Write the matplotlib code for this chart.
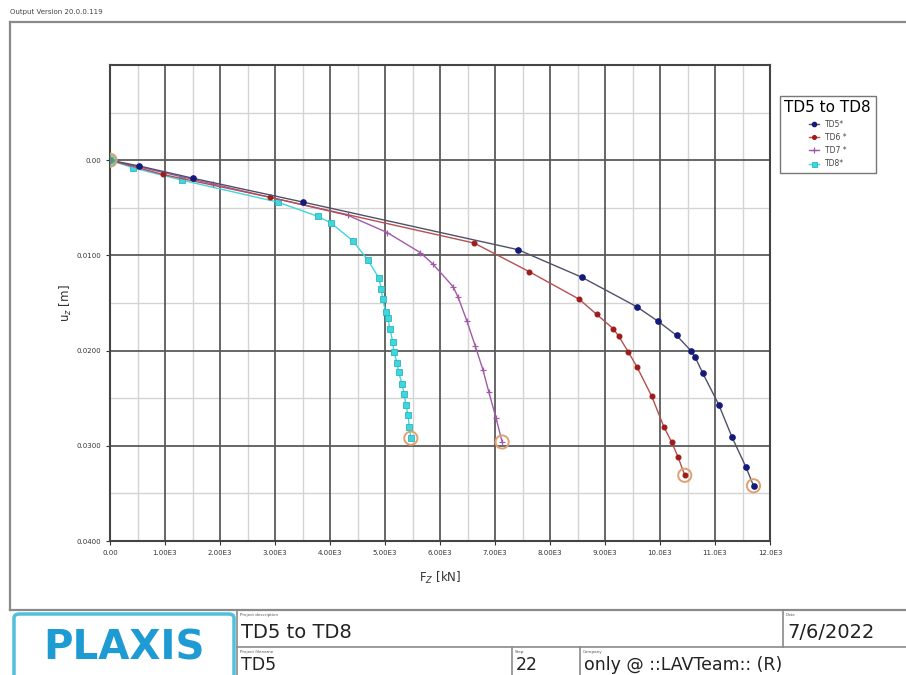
import matplotlib.pyplot as plt
from matplotlib.lines import Line2D
from matplotlib.patches import FancyBboxPatch

# Load-displacement curves (F_z in kN, u_z in m)
td5_f = [0, 527, 1510, 3510, 7420, 8580, 9580, 9960, 10300, 10560, 10640, 10780,
         11070, 11310, 11560, 11700]
td5_u = [0, 0.0006, 0.0019, 0.0044, 0.0094, 0.0123, 0.0154, 0.0169, 0.0184, 0.0200,
         0.0207, 0.0224, 0.0257, 0.0291, 0.0322, 0.0342]

td6_f = [0, 960, 2910, 6620, 7620, 8530, 8850, 9150, 9250, 9420, 9580, 9850,
         10070, 10210, 10330, 10450]
td6_u = [0, 0.0015, 0.0039, 0.0087, 0.0117, 0.0146, 0.0162, 0.0177, 0.0185, 0.0201,
         0.0217, 0.0248, 0.0280, 0.0296, 0.0312, 0.0331]

td7_f = [0, 1870, 4330, 5040, 5640, 5870, 6240, 6330, 6490, 6640, 6780, 6890,
         7020, 7130]
td7_u = [0, 0.0025, 0.0058, 0.0076, 0.0097, 0.0109, 0.0133, 0.0144, 0.0169, 0.0195,
         0.0220, 0.0244, 0.0271, 0.0296]

td8_f = [0, 420, 1310, 3050, 3780, 4020, 4420, 4690, 4890, 4930, 4960, 5010, 5050,
         5090, 5140, 5160, 5220, 5250, 5310, 5350, 5380, 5420, 5440, 5470]
td8_u = [0, 0.0008, 0.0021, 0.0044, 0.0059, 0.0066, 0.0085, 0.0105, 0.0124, 0.0135,
         0.0146, 0.0159, 0.0166, 0.0177, 0.0191, 0.0201, 0.0213, 0.0223, 0.0235,
         0.0246, 0.0257, 0.0268, 0.0280, 0.0292]

x_ticks = [0, 1000, 2000, 3000, 4000, 5000, 6000, 7000, 8000, 9000, 10000, 11000, 12000]
x_labels = ["0.00", "1.00E3", "2.00E3", "3.00E3", "4.00E3", "5.00E3", "6.00E3",
            "7.00E3", "8.00E3", "9.00E3", "10.0E3", "11.0E3", "12.0E3"]
y_ticks = [0, 0.01, 0.02, 0.03, 0.04]
y_labels = ["0.00", "0.0100", "0.0200", "0.0300", "0.0400"]

W, H = 906, 675
fig = plt.figure(figsize=(W / 100, H / 100), dpi=100)


def fx(px):
    return px / W


def fy(py):
    return 1 - py / H


def hline(x0, x1, y, color="#8a8a8a", lw=1.2):
    fig.add_artist(Line2D([fx(x0), fx(x1)], [fy(y), fy(y)], color=color, lw=lw))


def vline(x, y0, y1, color="#8a8a8a", lw=1.2):
    fig.add_artist(Line2D([fx(x), fx(x)], [fy(y0), fy(y1)], color=color, lw=lw))


# outer frame around the plot area
hline(10, 906, 22, lw=1.6)
vline(10, 22, 610, lw=1.6)
hline(10, 906, 610, lw=1.6)

fig.text(fx(10), fy(12), "Output Version 20.0.0.119", fontsize=5, color="#444",
         va="center", ha="left")

ax = fig.add_axes([fx(110), fy(541), fx(770) - fx(110), fy(65) - fy(541)])
ax.set_xlim(0, 12000)
ax.set_ylim(0.04, -0.01)

# light minor grid, dark major grid
for v in range(500, 12000, 1000):
    ax.axvline(v, color="#d4d4d4", lw=1.0, zorder=0)
for v in [-0.005, 0.005, 0.015, 0.025, 0.035]:
    ax.axhline(v, color="#d4d4d4", lw=1.0, zorder=0)
for v in x_ticks[1:-1]:
    ax.axvline(v, color="#5a5a5a", lw=1.3, zorder=0)
for v in [-0.01] + y_ticks[:-1]:
    ax.axhline(v, color="#5a5a5a", lw=1.3, zorder=0)

ax.set_xticks(x_ticks)
ax.set_xticklabels(x_labels)
ax.set_yticks(y_ticks)
ax.set_yticklabels(y_labels)
ax.tick_params(labelsize=5, colors="#333", length=3, width=0.8)
for s in ax.spines.values():
    s.set_color("#444")
    s.set_linewidth(1.5)

ax.set_xlabel("F$_Z$ [kN]", fontsize=8.5, color="#333")
ax.set_ylabel("u$_z$ [m]", fontsize=8.5, color="#333")
ax.xaxis.set_label_coords(0.5, -0.06)
ax.yaxis.set_label_coords(-0.055, 0.5)

ax.plot(td8_f, td8_u, color="#3fd6dc", lw=1.0, marker="s", ms=4.5,
        mfc="#3fd6dc", mec="#2bb5c0", mew=0.6, label="TD8*", zorder=3)
ax.plot(td7_f, td7_u, color="#a05aa8", lw=1.0, marker="+", ms=5, mew=0.9,
        label="TD7 *", zorder=4)
ax.plot(td6_f, td6_u, color="#b55050", lw=1.0, marker="o", ms=3.3,
        mfc="#a01c1c", mec="#a01c1c", label="TD6 *", zorder=5)
ax.plot(td5_f, td5_u, color="#50506a", lw=1.0, marker="o", ms=3.8,
        mfc="#141a78", mec="#141a78", label="TD5*", zorder=6)

# rings at the start and end of each curve
ends_f = [td5_f[-1], td6_f[-1], td7_f[-1], td8_f[-1], 0]
ends_u = [td5_u[-1], td6_u[-1], td7_u[-1], td8_u[-1], 0]
ax.scatter(ends_f, ends_u, s=90, facecolors="none", edgecolors="#e0a070",
           linewidths=1.4, zorder=7)
ax.scatter([0], [0], s=60, color="#7cc090", alpha=0.7, zorder=7)

handles, labels = ax.get_legend_handles_labels()
order = [3, 2, 1, 0]
leg = ax.legend([handles[i] for i in order], [labels[i] for i in order],
                title="TD5 to TD8", loc="upper left",
                bbox_to_anchor=(fx(776), fy(92)), bbox_transform=fig.transFigure,
                fontsize=5.5, title_fontsize=11, frameon=True, fancybox=False,
                edgecolor="#555", handlelength=1.4, borderpad=0.6,
                labelspacing=0.55, markerscale=0.8, alignment="center")
leg.get_frame().set_linewidth(1.0)
for t in leg.get_texts():
    t.set_color("#444")

# title block
hline(237, 906, 610, lw=1.2)
hline(237, 906, 647, lw=1.2)
vline(237, 610, 675, lw=1.2)
vline(783, 610, 647, lw=1.2)
vline(512, 647, 675, lw=1.2)
vline(580, 647, 675, lw=1.2)

fig.add_artist(FancyBboxPatch((fx(14), fy(675) - 0.02), fx(234) - fx(14), fy(614) - fy(675) + 0.02,
                              boxstyle="round,pad=0,rounding_size=0.006",
                              transform=fig.transFigure, facecolor="white",
                              edgecolor="#52bfdc", lw=2.5, clip_on=False))
fig.text(fx(124), fy(648), "PLAXIS", fontsize=29, fontweight="bold", color="#1f9bd3",
         ha="center", va="center", family="DejaVu Sans")

cells = [
    (240, 615, "Project description", "TD5 to TD8", 632, 14),
    (786, 615, "Date", "7/6/2022", 633, 14),
    (240, 652, "Project filename", "TD5", 665, 12.5),
    (515, 652, "Step", "22", 665, 12.5),
    (583, 652, "Company", "only @ ::LAVTeam:: (R)", 665, 12.5),
]
for x0, ys, small, big, yb, fs in cells:
    fig.text(fx(x0), fy(ys), small, fontsize=3, color="#555", va="center", ha="left")
    fig.text(fx(x0 + 1), fy(yb), big, fontsize=fs, color="#222", va="center", ha="left")

fig.savefig("out.png", dpi=100, facecolor="white")
